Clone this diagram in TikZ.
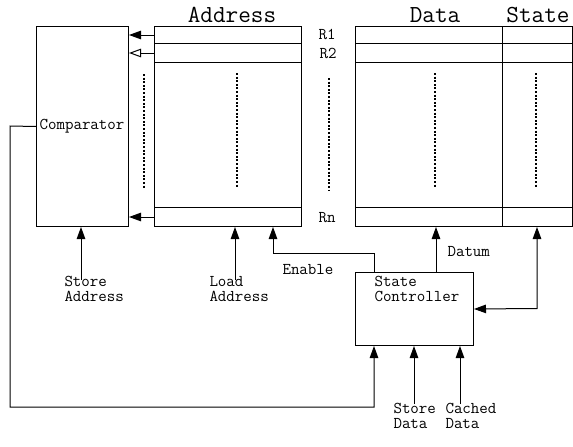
\documentclass[tikz,border=0pt]{standalone}
\usetikzlibrary{arrows.meta}
\begin{document}
\begin{tikzpicture}[x=1pt,y=-1pt,
  line width=1pt,
  box/.style={draw,rectangle,inner sep=0pt,anchor=north west},
  lbl/.style={font=\ttfamily\fontsize{16.5}{15}\selectfont,inner sep=0pt,align=left,anchor=base west},
  title/.style={font=\ttfamily\fontsize{24.5}{24}\selectfont,inner sep=0pt,anchor=base},
  arr/.style={-{Triangle[length=12pt,width=8.5pt]}},
  oarr/.style={-{Triangle[open,length=12pt,width=8.5pt]}},
  darr/.style={{Triangle[length=12pt,width=8.5pt]}-{Triangle[length=12pt,width=8.5pt]}},
  dots/.style={line width=1.2pt,dash pattern=on 2pt off 1.6pt}]
\useasboundingbox (0,0) rectangle (573,447);

% main blocks
\node[box,minimum width=92pt,minimum height=200pt] (comp) at (36,26) {};
\node[box,minimum width=147pt,minimum height=200pt] (addr) at (154,26) {};
\node[box,minimum width=217pt,minimum height=200pt] (data) at (355,26) {};
\node[box,minimum width=70pt,minimum height=200pt] (state) at (502,26) {};

% register rows
\node[box,minimum width=147pt,minimum height=17pt] (a1) at (154,26) {};
\node[box,minimum width=147pt,minimum height=19pt] (a2) at (154,43) {};
\node[box,minimum width=147pt,minimum height=19pt] (an) at (154,207) {};
\node[box,minimum width=217pt,minimum height=17pt] (d1) at (355,26) {};
\node[box,minimum width=217pt,minimum height=19pt] (d2) at (355,43) {};
\node[box,minimum width=217pt,minimum height=19pt] (dn) at (355,207) {};

% titles
\node[title] (tAddr) at (232,22) {Address};
\node[title] (tData) at (435,22) {Data};
\node[title] (tState) at (538,22) {State};

% row labels
\node[lbl] (r1) at (318,39) {R1};
\node[lbl] (r2) at (319,58) {R2};
\node[lbl] (rn) at (318,222) {Rn};

% comparator and controller
\node[lbl,anchor=base] (compl) at (82,129) {Comparator};
\node[box,minimum width=118pt,minimum height=73pt] (sc) at (355,272) {};
\node[lbl] (scl) at (374,301.5) {State\\Controller};

% elided rows
\draw[dots] (144,74) -- (144,188);
\draw[dots] (237,73) -- (237,187);
\draw[dots] (329,78) -- (329,191);
\draw[dots] (435,73) -- (435,187);
\draw[dots] (536,73) -- (536,187);

% row outputs to the comparator
\draw[arr] (a1.west) -- (comp.east |- a1.west);
\draw[oarr] (a2.west) -- (comp.east |- a2.west);
\draw[arr] (an.west) -- (comp.east |- an.west);

% address inputs
\coordinate (saIn) at (81,280);
\coordinate (laIn) at (235,280);
\draw[arr] (saIn) -- (saIn |- comp.south);
\draw[arr] (laIn) -- (laIn |- addr.south);
\node[lbl] (sal) at (64,301.5) {Store\\Address};
\node[lbl] (lal) at (209,301.5) {Load\\Address};

% enable line
\coordinate (enA) at (374,253);
\coordinate (enB) at (273,253);
\draw[arr] (enA |- sc.north) -- (enA) -- (enB) -- (enB |- addr.south);
\node[lbl] (enl) at (282,274) {Enable};

% datum
\coordinate (dm) at (436,253);
\draw[arr] (dm |- sc.north) -- (dm |- data.south);
\node[lbl] (dml) at (447,256) {Datum};

% state bus
\coordinate (stC) at (537,308.5);
\draw[darr] (sc.east) -- (stC) -- (stC |- state.south);

% comparator result to the controller
\coordinate (fb1) at (10,126);
\coordinate (fb2) at (10,407);
\coordinate (fb3) at (374,407);
\draw[arr] (comp.west) -- (fb1) -- (fb2) -- (fb3) -- (fb3 |- sc.south);

% data inputs
\coordinate (sdIn) at (414,404);
\coordinate (cdIn) at (460,404);
\draw[arr] (sdIn) -- (sdIn |- sc.south);
\draw[arr] (cdIn) -- (cdIn |- sc.south);
\node[lbl] (sdl) at (393,428.5) {Store\\Data};
\node[lbl] (cdl) at (445,428.5) {Cached\\Data};
\end{tikzpicture}
\end{document}
